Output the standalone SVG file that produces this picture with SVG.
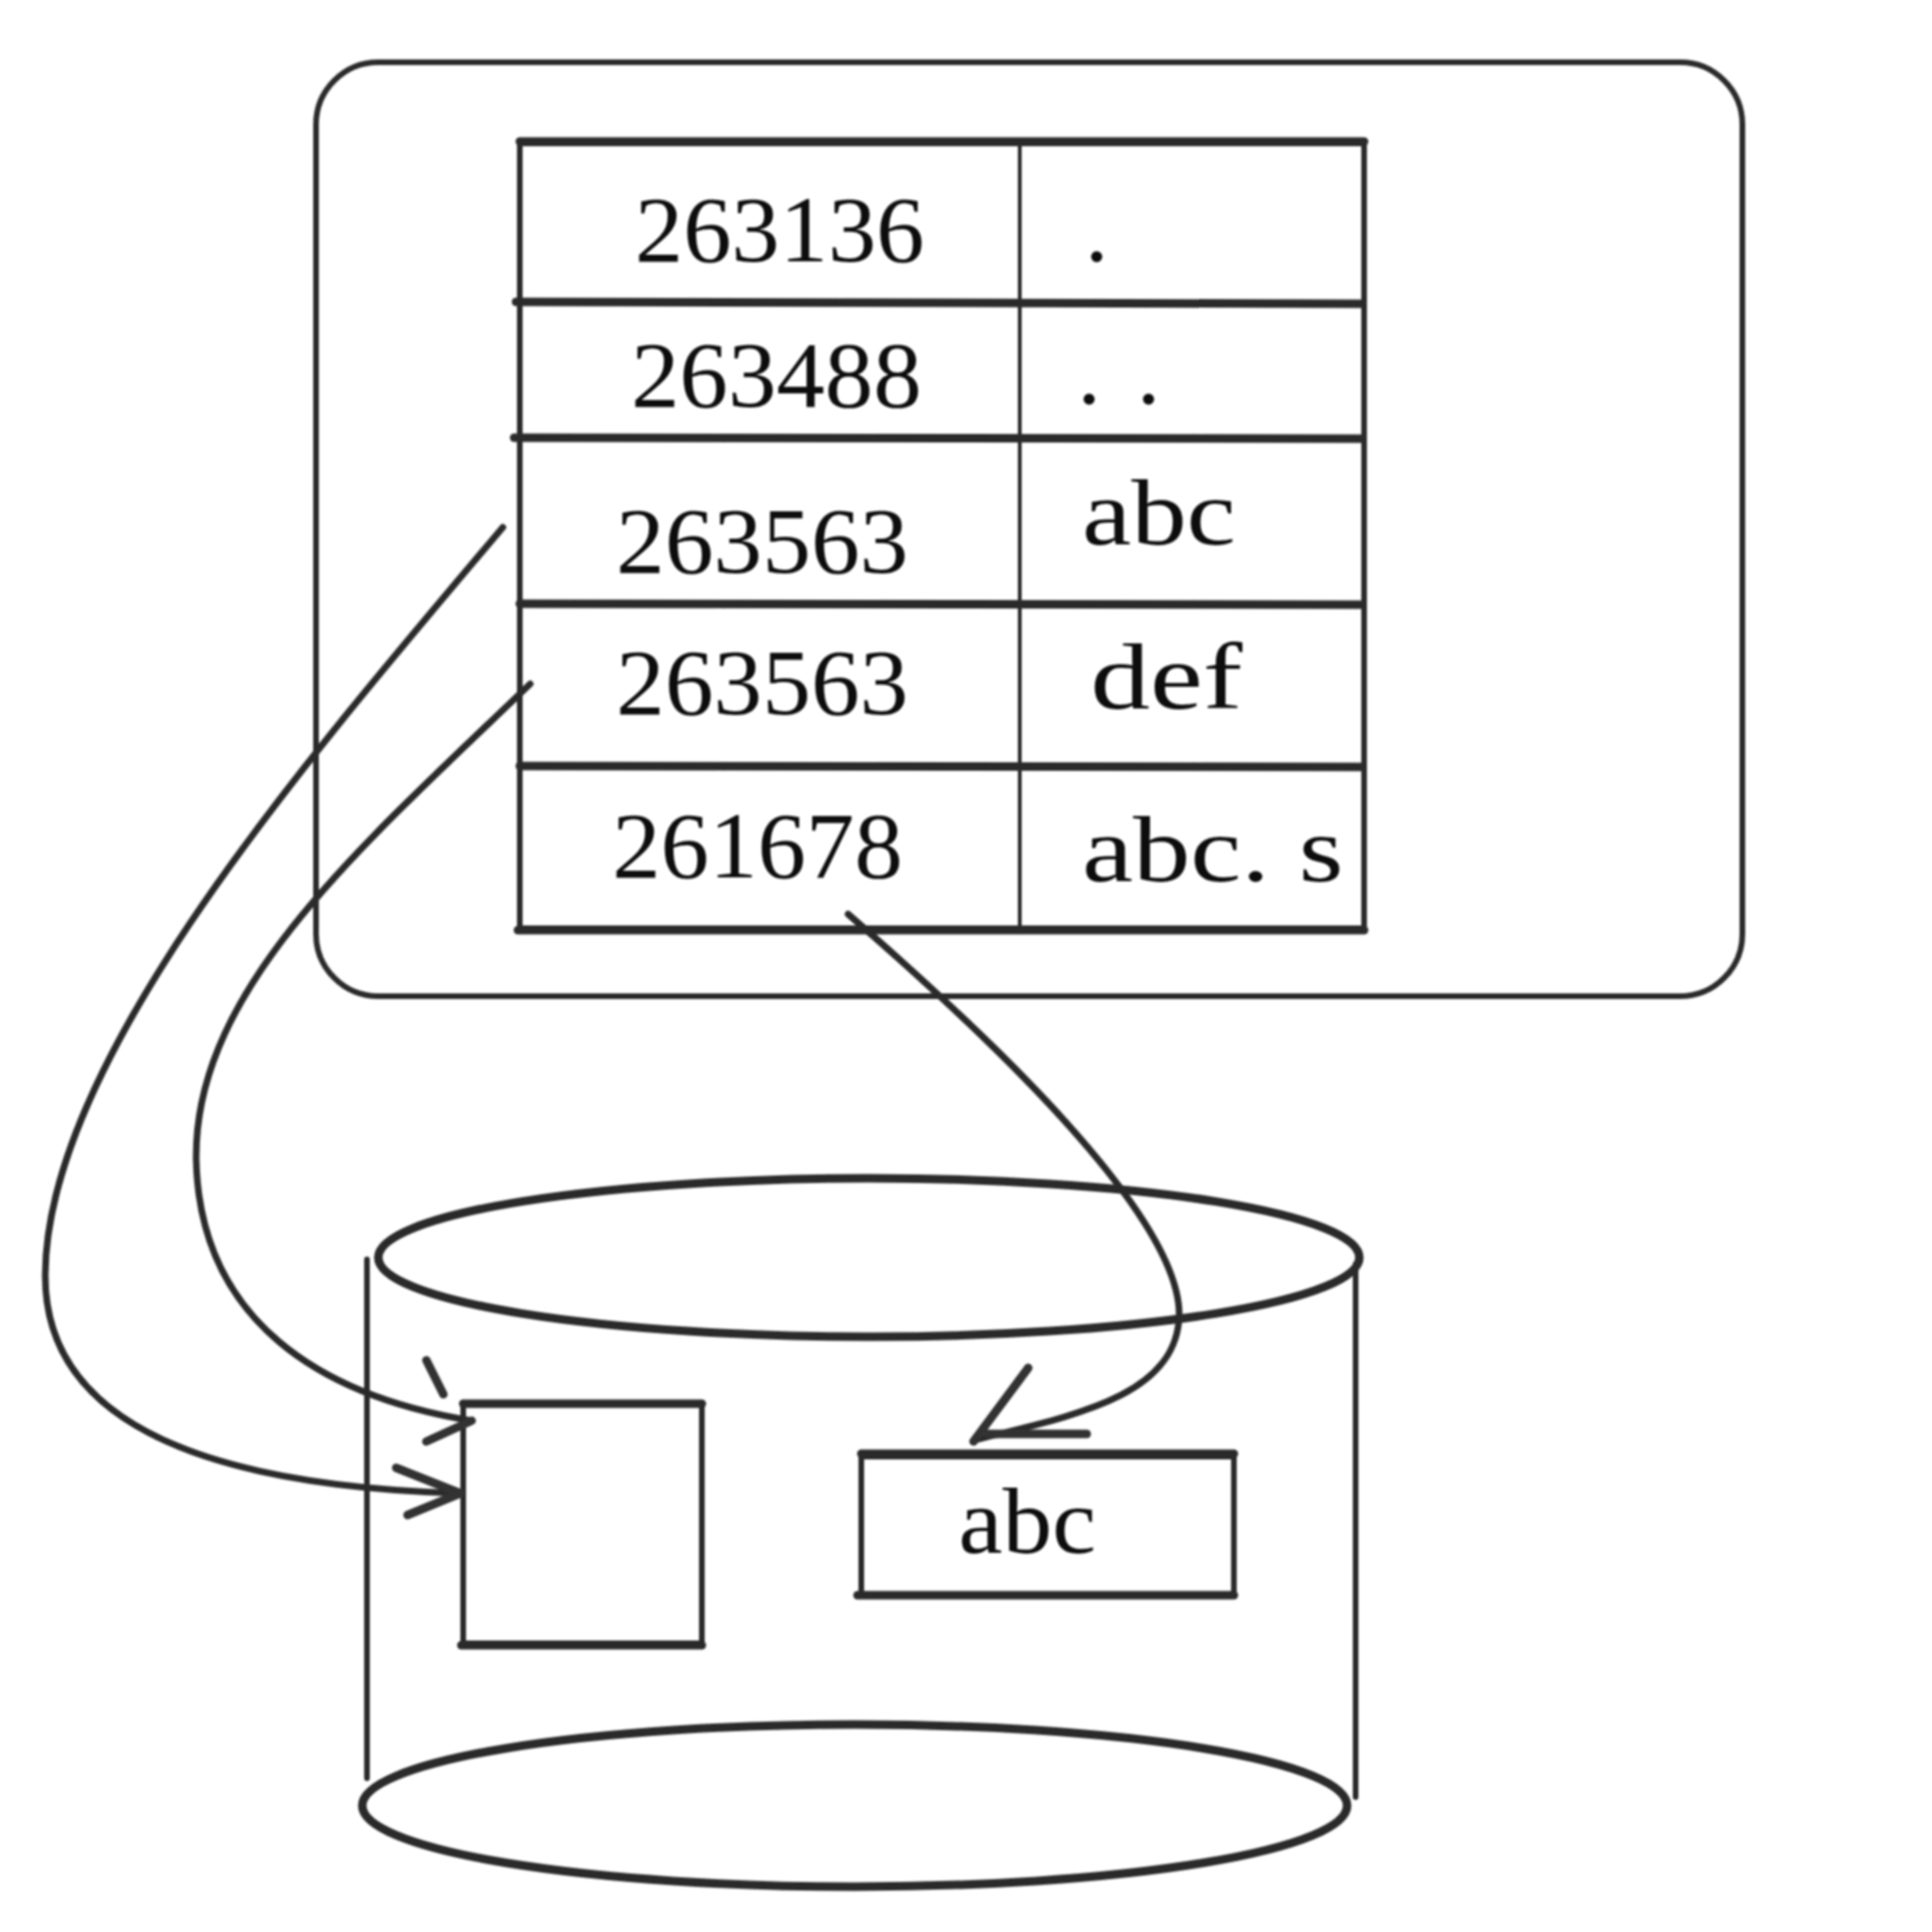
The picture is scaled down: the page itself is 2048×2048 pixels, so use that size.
<svg xmlns="http://www.w3.org/2000/svg" width="2048" height="2048" viewBox="0 0 2048 2048">
<defs>
<filter id="soft" x="-5%" y="-5%" width="110%" height="110%"><feGaussianBlur stdDeviation="1.2"/></filter>
</defs>
<style>
.ln{fill:none;stroke:#2b2b2b;stroke-width:6;stroke-linecap:round;stroke-linejoin:round}
.thick{fill:none;stroke:#2b2b2b;stroke-width:9;stroke-linecap:round}
.thin{fill:none;stroke:#2b2b2b;stroke-width:4;stroke-linecap:round}
.wire{fill:none;stroke:#2b2b2b;stroke-width:7;stroke-linecap:round}
.head{fill:none;stroke:#333;stroke-width:9;stroke-linecap:round;stroke-linejoin:round}
.t{font-family:"Liberation Serif","DejaVu Serif",serif;font-size:100px;fill:#111}
</style>
<rect width="2048" height="2048" fill="#fff"/>
<g filter="url(#soft)">
<g id="container">
<rect class="ln" x="335" y="66" width="1512" height="990" rx="66" ry="66"/>
</g>
<g id="table">
<rect class="ln" x="551" y="152" width="895" height="832"/>
<line class="thick" x1="551" y1="150" x2="1446" y2="150"/>
<line class="thin" x1="1081" y1="152" x2="1081" y2="984"/>
<line class="thick" x1="547" y1="320" x2="1442" y2="322"/>
<line class="thick" x1="545" y1="464" x2="1442" y2="465"/>
<line class="thick" x1="551" y1="640" x2="1442" y2="641"/>
<line class="thick" x1="551" y1="812" x2="1442" y2="813"/>
<line class="thick" x1="549" y1="986" x2="1446" y2="986"/>
</g>
<g id="row1">
<text class="t" x="673" y="277" textLength="307" lengthAdjust="spacingAndGlyphs">263136</text>
<text class="t" x="1150" y="277">.</text>
</g>
<g id="row2">
<text class="t" x="669" y="431" textLength="308" lengthAdjust="spacingAndGlyphs">263488</text>
<text class="t" x="1142" y="428" textLength="88" lengthAdjust="spacing">..</text>
</g>
<g id="row3">
<text class="t" x="653" y="607" textLength="310" lengthAdjust="spacingAndGlyphs">263563</text>
<text class="t" x="1147" y="577" textLength="163" lengthAdjust="spacingAndGlyphs">abc</text>
</g>
<g id="row4">
<text class="t" x="653" y="757" textLength="310" lengthAdjust="spacingAndGlyphs">263563</text>
<text class="t" x="1156" y="751" textLength="161" lengthAdjust="spacingAndGlyphs">def</text>
</g>
<g id="row5">
<text class="t" x="649" y="930" textLength="308" lengthAdjust="spacingAndGlyphs">261678</text>
<text class="t" x="1147" y="934" textLength="277" lengthAdjust="spacingAndGlyphs">abc. s</text>
</g>
<g id="disk">
<ellipse class="thick" cx="921" cy="1333" rx="520" ry="84"/>
<line class="ln" x1="389" y1="1335" x2="389" y2="1885"/>
<line class="ln" x1="1437" y1="1340" x2="1437" y2="1905"/>
<ellipse class="thick" cx="906" cy="1914" rx="522" ry="86"/>
</g>
<g id="inode-box">
<rect class="ln" x="491" y="1489" width="253" height="253"/>
<line class="thick" x1="491" y1="1488" x2="744" y2="1488"/>
<line class="thick" x1="489" y1="1744" x2="744" y2="1744"/>
</g>
<g id="data-box">
<rect class="ln" x="913" y="1544" width="395" height="146"/>
<line class="thick" x1="913" y1="1541" x2="1308" y2="1541"/>
<line class="thick" x1="909" y1="1691" x2="1308" y2="1691"/>
<text class="t" x="1016" y="1646" font-size="92" textLength="146" lengthAdjust="spacingAndGlyphs">abc</text>
</g>
<g id="connectors">
<path class="wire" d="M533,559 C 330,800 50,1120 48,1350 C 46,1510 220,1575 488,1583"/>
<polyline class="head" points="420,1556 488,1583 432,1606"/>
<path class="wire" d="M562,725 C 380,900 205,1050 208,1230 C 212,1400 340,1480 500,1506"/>
<polyline class="head" points="452,1442 470,1478"/>
<polyline class="head" points="452,1528 500,1506"/>
<path class="wire" d="M899,969 C 1050,1100 1252,1290 1250,1395 C 1247,1480 1140,1500 1035,1526"/>
<polyline class="head" points="1090,1450 1032,1528"/>
<polyline class="head" points="1048,1520 1152,1520"/>
</g>
</g>
</svg>
